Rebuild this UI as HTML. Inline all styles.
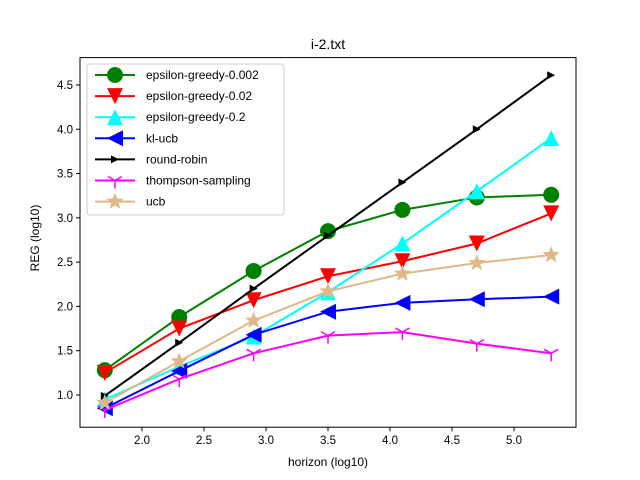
<!DOCTYPE html>
<html><head><meta charset="utf-8"><style>body{margin:0;background:#fff}svg{display:block;font-family:"Liberation Sans","DejaVu Sans",sans-serif}</style></head>
<body>
<svg id="chart" width="640" height="480">
<rect width="640" height="480" fill="#fff"/>
<g id="plot"></g>
<text x="328" y="49" text-anchor="middle" font-size="14">i-2.txt</text>
<text x="328" y="466" text-anchor="middle" font-size="12">horizon (log10)</text>
<text transform="translate(39,238) rotate(-90)" text-anchor="middle" font-size="12">REG (log10)</text>
</svg>
<script>
const horizons = [1.7, 2.3, 2.9, 3.5, 4.1, 4.7, 5.3];
const seriesNames = ["epsilon-greedy-0.002","epsilon-greedy-0.02","epsilon-greedy-0.2","kl-ucb","round-robin","thompson-sampling","ucb"];
const epsGreedy0002 = [1.28, 1.88, 2.40, 2.85, 3.09, 3.23, 3.26];
const epsGreedy002 = [1.25, 1.75, 2.07, 2.34, 2.51, 2.71, 3.05];
const epsGreedy02 = [0.95, 1.32, 1.66, 2.16, 2.71, 3.30, 3.90];
const klUcb = [0.85, 1.27, 1.68, 1.94, 2.04, 2.08, 2.11];
const roundRobin = [0.99, 1.59, 2.20, 2.80, 3.40, 4.00, 4.61];
const thompson = [0.83, 1.18, 1.47, 1.67, 1.71, 1.58, 1.47];
const ucb = [0.91, 1.38, 1.84, 2.17, 2.37, 2.49, 2.58];
const xTicks = [2.0, 2.5, 3.0, 3.5, 4.0, 4.5, 5.0];
const yTicks = [1.0, 1.5, 2.0, 2.5, 3.0, 3.5, 4.0, 4.5];

const L=80,R=576,T=57.6,B=427.2;
const xMin=1.5,xMax=5.5,yMin=0.636,yMax=4.809;
const xs=v=>L+(v-xMin)/(xMax-xMin)*(R-L);
const ys=v=>B-(v-yMin)/(yMax-yMin)*(B-T);
const NS="http://www.w3.org/2000/svg";
const g=document.getElementById('plot');
function el(tag,attrs,parent){const e=document.createElementNS(NS,tag);for(const k in attrs)e.setAttribute(k,attrs[k]);(parent||g).appendChild(e);return e;}

const frame=el('rect',{x:L,y:T,width:R-L,height:B-T,fill:'none',stroke:'#000','stroke-width':1});


xTicks.forEach(t=>{const x=xs(t);
 const ln=el('line',{x1:x,x2:x,y1:B,y2:B+4,stroke:'#000'});
 
 
 const tx=el('text',{x:x,y:B+17,'text-anchor':'middle','font-size':11.5});tx.textContent=t.toFixed(1);
 
 });
yTicks.forEach(t=>{const y=ys(t);
 const ln=el('line',{x1:L-4,x2:L,y1:y,y2:y,stroke:'#000'});
 
 
 const tx=el('text',{x:L-7,y:y+4,'text-anchor':'end','font-size':11.5});tx.textContent=t.toFixed(1);
 
 });

function marker(type,x,y,color,parent){
 const s=8;
 if(type==='o')return el('circle',{cx:x,cy:y,r:s,fill:color},parent);
 if(type==='v')return el('polygon',{points:`${x-s},${y-s} ${x+s},${y-s} ${x},${y+s}`,fill:color},parent);
 if(type==='^')return el('polygon',{points:`${x-s},${y+s} ${x+s},${y+s} ${x},${y-s}`,fill:color},parent);
 if(type==='<')return el('polygon',{points:`${x+s},${y-s} ${x+s},${y+s} ${x-s},${y}`,fill:color},parent);
 if(type==='>')return el('polygon',{points:`${x-4},${y-4} ${x-4},${y+4} ${x+4},${y}`,fill:color},parent);
 if(type==='1')return el('path',{d:`M${x},${y} L${x},${y+8} M${x},${y} L${x-7},${y-4} M${x},${y} L${x+7},${y-4}`,stroke:color,'stroke-width':1.5,fill:'none'},parent);
 if(type==='*'){let p=[];for(let i=0;i<10;i++){const r=i%2?3.8:9;const a=-Math.PI/2+i*Math.PI/5;p.push((x+r*Math.cos(a)).toFixed(1)+','+(y+r*Math.sin(a)).toFixed(1));}return el('polygon',{points:p.join(' '),fill:color},parent);}
}
const allSeries=[epsGreedy0002,epsGreedy002,epsGreedy02,klUcb,roundRobin,thompson,ucb];
const colors=['#008000','#ff0000','#00ffff','#0000ff','#000000','#ff00ff','#deb887'];
const marks=['o','v','^','<','>','1','*'];
allSeries.forEach((vals,i)=>{
 const sg=el('g',{});
 
 
 const pl=el('polyline',{points:vals.map((v,j)=>xs(horizons[j])+','+ys(v)).join(' '),fill:'none',stroke:colors[i],'stroke-width':2},sg);
 
 
 vals.forEach((v,j)=>{const m=marker(marks[i],xs(horizons[j]),ys(v),colors[i],sg);
  
  });
});
const lg=el('g',{});


el('rect',{x:87,y:64,width:197,height:151,rx:3,fill:'#fff','fill-opacity':0.8,stroke:'#ccc'},lg);
seriesNames.forEach((n,i)=>{
 const y=75+i*21.1;
 const eg=el('g',{},lg);
 
 
 el('line',{x1:95,x2:135,y1:y,y2:y,stroke:colors[i],'stroke-width':2},eg);
 marker(marks[i],115,y,colors[i],eg);
 const t=el('text',{x:146,y:y+4,'font-size':12},eg);t.textContent=n;
});
</script>
</body></html>
